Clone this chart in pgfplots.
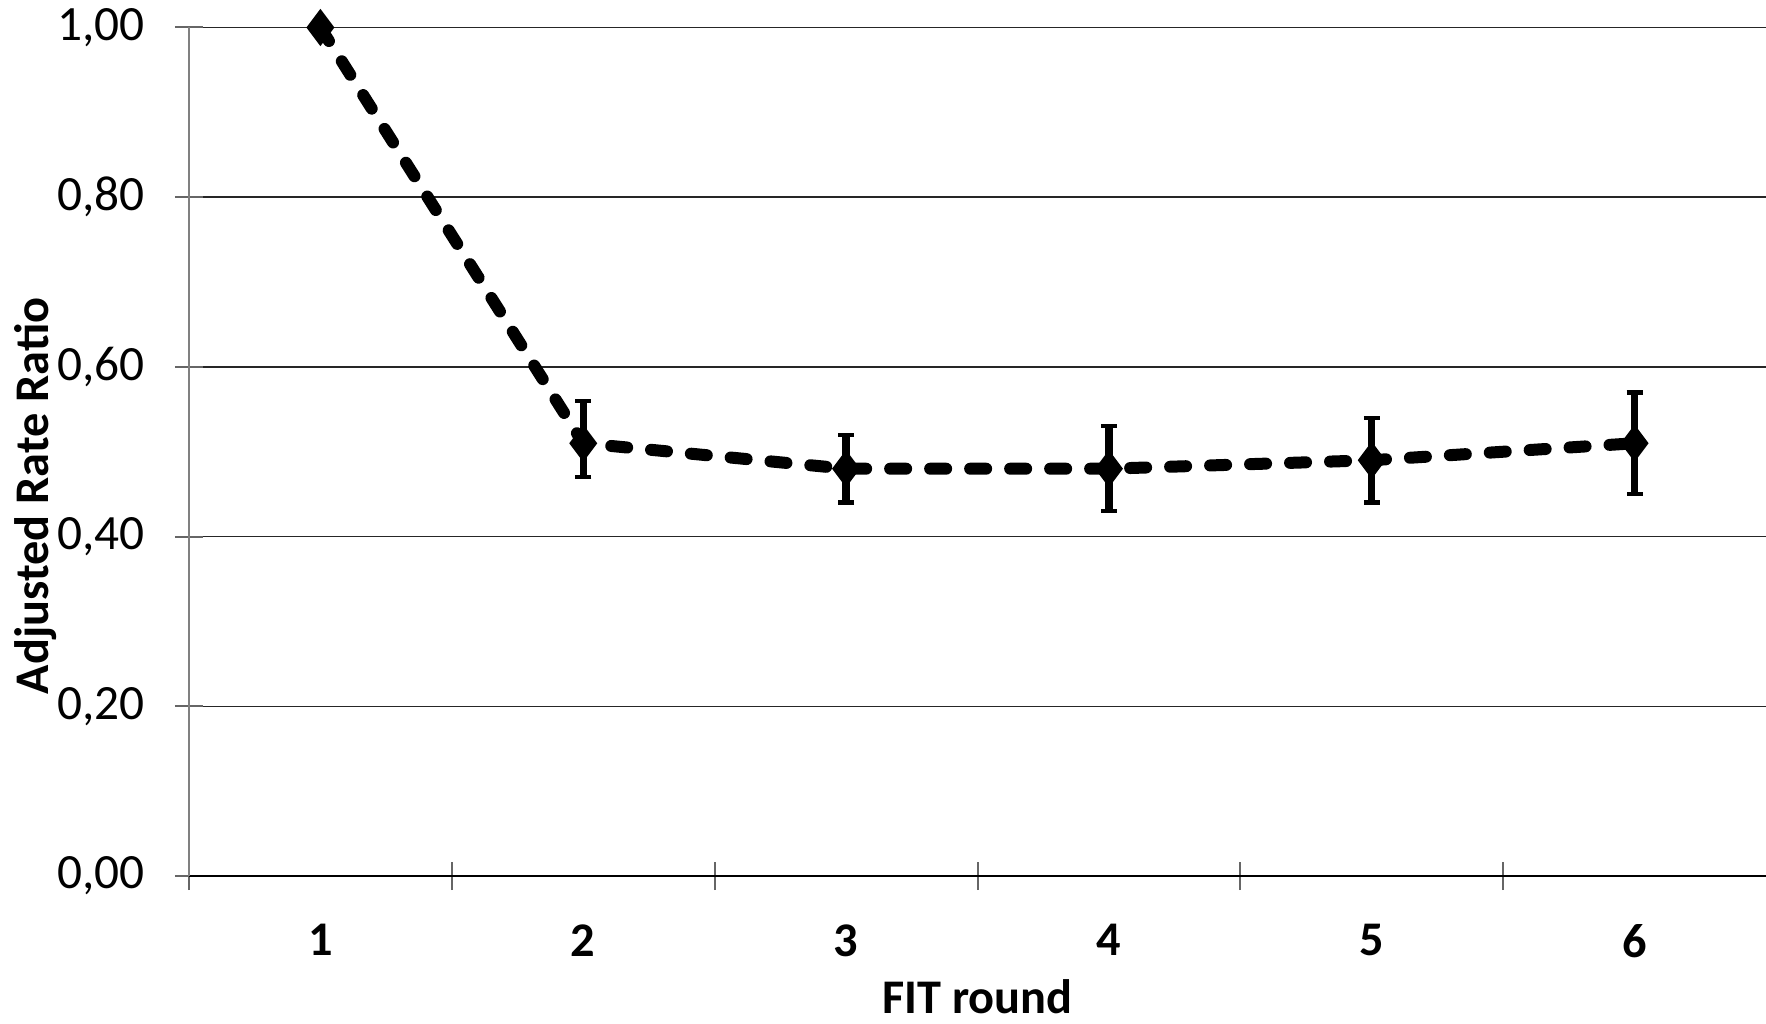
\documentclass[border=0pt]{standalone}
\usepackage{fontspec}
\setmainfont{Carlito}
\usepackage{pgfplots}
\usepackage{pgfplotstable}
\pgfplotsset{compat=1.18}
\pgfplotstableread{
x y
1 1.00
2 0.51
3 0.48
4 0.48
5 0.49
6 0.51
}\mainline
\pgfplotstableread{
x y ep em
2 0.51 0.05 0.04
3 0.48 0.04 0.04
4 0.48 0.05 0.05
5 0.49 0.05 0.05
6 0.51 0.06 0.06
}\errs
\begin{document}
\begin{tikzpicture}
\begin{axis}[
  scale only axis, width=473.1pt, height=254.55pt,
  at={(0,0)}, anchor=south west,
  xmin=0.5, xmax=6.5, ymin=0, ymax=1,
  clip=false,
  axis lines*=left,
  x axis line style={black, line width=0.6pt},
  y axis line style={black!50, line width=0.6pt},
  tick align=center,
  major tick length=8.5pt,
  tick style={black!60, line width=0.6pt},
  xtick={0.5,1.5,2.5,3.5,4.5,5.5},
  xticklabels={1,2,3,4,5,6},
  x tick label style={xshift=39.42pt, yshift=-6.8pt, font=\fontsize{14.5}{16}\selectfont\bfseries},
  ytick={0,0.2,0.4,0.6,0.8,1},
  y tick label style={xshift=-5.6pt, font=\fontsize{14.8}{16}\selectfont},
  /pgf/number format/.cd, fixed, fixed zerofill, precision=2, use comma, assume math mode=true,
  /pgfplots/.cd,
  ymajorgrids,
  major grid style={black!85, line width=0.45pt},
  xlabel={FIT round},
  ylabel={Adjusted Rate Ratio},
  xlabel style={at={(axis description cs:0.5,0)}, anchor=center, yshift=-36.3pt, font=\fontsize{14.5}{16}\selectfont\bfseries},
  ylabel style={at={(axis description cs:0,0.448)}, anchor=center, yshift=45.9pt, font=\fontsize{14.5}{16}\selectfont\bfseries},
]
\addplot[black, line width=3.6pt, line cap=round, dash pattern=on 4.8pt off 7.2pt,
  mark=diamond*, mark size=2.6pt, mark options={solid, fill=black}]
  table[x=x, y=y] {\mainline};
\addplot[only marks, mark=none,
  error bars/.cd, y dir=both, y explicit,
  error bar style={line width=2.2pt, solid, black},
  error mark options={rotate=90, mark size=2.4pt, line width=1.3pt, black, solid}]
  table[x=x, y=y, y error plus=ep, y error minus=em] {\errs};
\end{axis}
\pgfresetboundingbox
\useasboundingbox (-56.7pt,-44.4pt) rectangle (473.1pt,262.8pt);
\end{tikzpicture}
\end{document}
